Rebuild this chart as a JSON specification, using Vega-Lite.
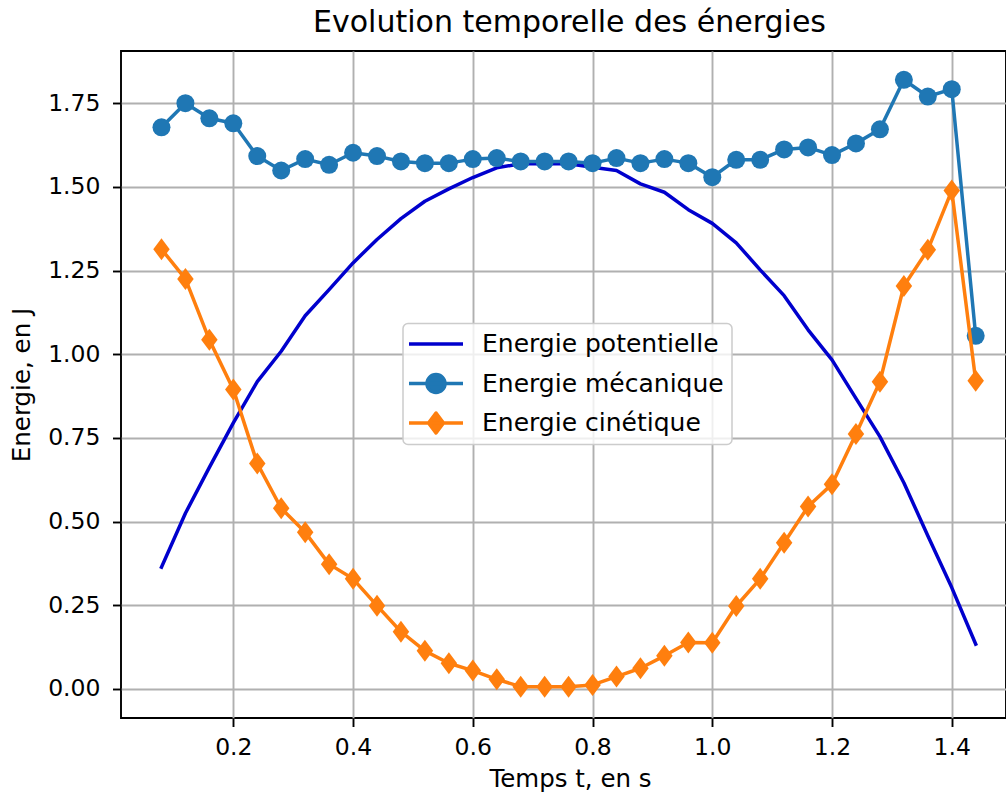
{
  "$schema": "https://vega.github.io/schema/vega-lite/v6.json",
  "width": 885,
  "height": 667,
  "autosize": "none",
  "padding": {"left": 121, "top": 51, "right": 0, "bottom": 78},
  "background": "white",
  "title": {
    "text": "Evolution temporelle des énergies",
    "font": "DejaVu Sans",
    "fontSize": 30,
    "fontWeight": "normal",
    "color": "black",
    "frame": "group",
    "anchor": "middle",
    "baseline": "alphabetic",
    "offset": 17,
    "dx": 6,
    "dy": 28
  },
  "config": {
    "view": {"stroke": "black", "strokeWidth": 1.9},
    "axis": {
      "domain": false,
      "grid": true,
      "gridColor": "#b0b0b0",
      "gridWidth": 1.9,
      "gridOpacity": 1,
      "tickColor": "black",
      "tickWidth": 1.9,
      "tickSize": 8.5,
      "labelFont": "DejaVu Sans",
      "labelFontSize": 23.5,
      "labelColor": "black",
      "titleFont": "DejaVu Sans",
      "titleFontSize": 24.5,
      "titleFontWeight": "normal",
      "titleColor": "black"
    }
  },
  "data": {
    "values": [
      {"t": 0.08, "Ep": 0.364, "Em": 1.678, "Ec": 1.314},
      {"t": 0.12, "Ep": 0.525, "Em": 1.750, "Ec": 1.225},
      {"t": 0.16, "Ep": 0.662, "Em": 1.705, "Ec": 1.043},
      {"t": 0.20, "Ep": 0.795, "Em": 1.690, "Ec": 0.895},
      {"t": 0.24, "Ep": 0.918, "Em": 1.592, "Ec": 0.674},
      {"t": 0.28, "Ep": 1.009, "Em": 1.549, "Ec": 0.540},
      {"t": 0.32, "Ep": 1.115, "Em": 1.583, "Ec": 0.468},
      {"t": 0.36, "Ep": 1.193, "Em": 1.566, "Ec": 0.373},
      {"t": 0.40, "Ep": 1.273, "Em": 1.602, "Ec": 0.329},
      {"t": 0.44, "Ep": 1.343, "Em": 1.592, "Ec": 0.249},
      {"t": 0.48, "Ep": 1.405, "Em": 1.576, "Ec": 0.171},
      {"t": 0.52, "Ep": 1.457, "Em": 1.571, "Ec": 0.114},
      {"t": 0.56, "Ep": 1.494, "Em": 1.571, "Ec": 0.077},
      {"t": 0.60, "Ep": 1.528, "Em": 1.583, "Ec": 0.055},
      {"t": 0.64, "Ep": 1.557, "Em": 1.586, "Ec": 0.029},
      {"t": 0.68, "Ep": 1.569, "Em": 1.576, "Ec": 0.007},
      {"t": 0.72, "Ep": 1.569, "Em": 1.576, "Ec": 0.007},
      {"t": 0.76, "Ep": 1.569, "Em": 1.576, "Ec": 0.007},
      {"t": 0.80, "Ep": 1.559, "Em": 1.571, "Ec": 0.012},
      {"t": 0.84, "Ep": 1.549, "Em": 1.586, "Ec": 0.037},
      {"t": 0.88, "Ep": 1.509, "Em": 1.571, "Ec": 0.062},
      {"t": 0.92, "Ep": 1.484, "Em": 1.583, "Ec": 0.099},
      {"t": 0.96, "Ep": 1.432, "Em": 1.571, "Ec": 0.139},
      {"t": 1.00, "Ep": 1.391, "Em": 1.529, "Ec": 0.138},
      {"t": 1.04, "Ep": 1.333, "Em": 1.581, "Ec": 0.248},
      {"t": 1.08, "Ep": 1.252, "Em": 1.581, "Ec": 0.329},
      {"t": 1.12, "Ep": 1.175, "Em": 1.612, "Ec": 0.437},
      {"t": 1.16, "Ep": 1.073, "Em": 1.618, "Ec": 0.545},
      {"t": 1.20, "Ep": 0.983, "Em": 1.595, "Ec": 0.612},
      {"t": 1.24, "Ep": 0.868, "Em": 1.630, "Ec": 0.762},
      {"t": 1.28, "Ep": 0.754, "Em": 1.672, "Ec": 0.918},
      {"t": 1.32, "Ep": 0.616, "Em": 1.820, "Ec": 1.204},
      {"t": 1.36, "Ep": 0.458, "Em": 1.770, "Ec": 1.312},
      {"t": 1.40, "Ep": 0.303, "Em": 1.792, "Ec": 1.489},
      {"t": 1.44, "Ep": 0.134, "Em": 1.055, "Ec": 0.921}
    ]
  },
  "encoding": {
    "x": {
      "field": "t",
      "type": "quantitative",
      "scale": {"domain": [0.0124, 1.4906], "nice": false, "zero": false},
      "axis": {
        "values": [0.2, 0.4, 0.6, 0.8, 1.0, 1.2, 1.4],
        "format": ".1f",
        "labelPadding": 9,
        "title": "Temps t, en s",
        "titlePadding": 8,
        "titleX": 449
      }
    }
  },
  "layer": [
    {
      "mark": {"type": "line", "strokeWidth": 3.5, "strokeJoin": "round", "strokeCap": "square"},
      "encoding": {
        "y": {
          "field": "Ep",
          "type": "quantitative",
          "scale": {"domain": [-0.0867, 1.906], "nice": false, "zero": false},
          "axis": {
            "values": [0, 0.25, 0.5, 0.75, 1.0, 1.25, 1.5, 1.75],
            "format": ".2f",
            "labelPadding": 12.5,
            "title": "Energie, en J",
            "titlePadding": 13
          }
        },
        "color": {
          "datum": "Energie potentielle",
          "type": "nominal",
          "scale": {
            "domain": ["Energie potentielle", "Energie mécanique", "Energie cinétique"],
            "range": ["#0000cd", "#1f77b4", "#ff7f0e"]
          },
          "legend": {
            "orient": "none",
            "legendX": 282,
            "legendY": 272.5,
            "title": null,
            "padding": 8,
            "fillColor": "rgba(255,255,255,0.8)",
            "strokeColor": "#cccccc",
            "cornerRadius": 5,
            "rowPadding": 13.5,
            "labelFont": "DejaVu Sans",
            "labelFontSize": 25,
            "labelColor": "black",
            "labelLimit": 400,
            "symbolSize": 400,
            "encode": {
              "legend": {"update": {"strokeWidth": {"value": 1.5}}},
              "symbols": {
                "update": {
                  "shape": {"signal": "datum.value === 'Energie potentielle' ? 'M-2.7,0H2.7M0,-1M0,1' : datum.value === 'Energie mécanique' ? 'M-2.7,0H2.7M0.9,0A0.9,0.9,0,1,1,-0.9,0A0.9,0.9,0,1,1,0.9,0ZM0,-1M0,1' : 'M-2.7,0H2.7M0,-1L0.75,0L0,1L-0.75,0ZM0,-1M0,1'"},
                  "size": {"value": 400},
                  "fill": {"signal": "datum.value === 'Energie potentielle' ? 'transparent' : scale('color', datum.value)"},
                  "stroke": {"signal": "scale('color', datum.value)"},
                  "strokeWidth": {"value": 3.5},
                  "strokeJoin": {"value": "round"},
                  "opacity": {"value": 1},
                  "x": {"value": 25}
                }
              },
              "labels": {"update": {"x": {"value": 71}}}
            }
          }
        }
      }
    },
    {
      "mark": {"type": "line", "strokeWidth": 3.5, "strokeJoin": "round", "strokeCap": "square"},
      "encoding": {
        "y": {"field": "Em", "type": "quantitative"},
        "color": {"datum": "Energie mécanique", "type": "nominal"}
      }
    },
    {
      "mark": {"type": "point", "shape": "circle", "filled": true, "opacity": 1, "size": 324},
      "encoding": {
        "y": {"field": "Em", "type": "quantitative"},
        "color": {"datum": "Energie mécanique", "type": "nominal"}
      }
    },
    {
      "mark": {"type": "line", "strokeWidth": 3.5, "strokeJoin": "round", "strokeCap": "square"},
      "encoding": {
        "y": {"field": "Ec", "type": "quantitative"},
        "color": {"datum": "Energie cinétique", "type": "nominal"}
      }
    },
    {
      "mark": {"type": "point", "shape": "M0,-1L0.75,0L0,1L-0.75,0Z", "filled": true, "opacity": 1, "size": 484},
      "encoding": {
        "y": {"field": "Ec", "type": "quantitative"},
        "color": {"datum": "Energie cinétique", "type": "nominal"}
      }
    }
  ]
}
